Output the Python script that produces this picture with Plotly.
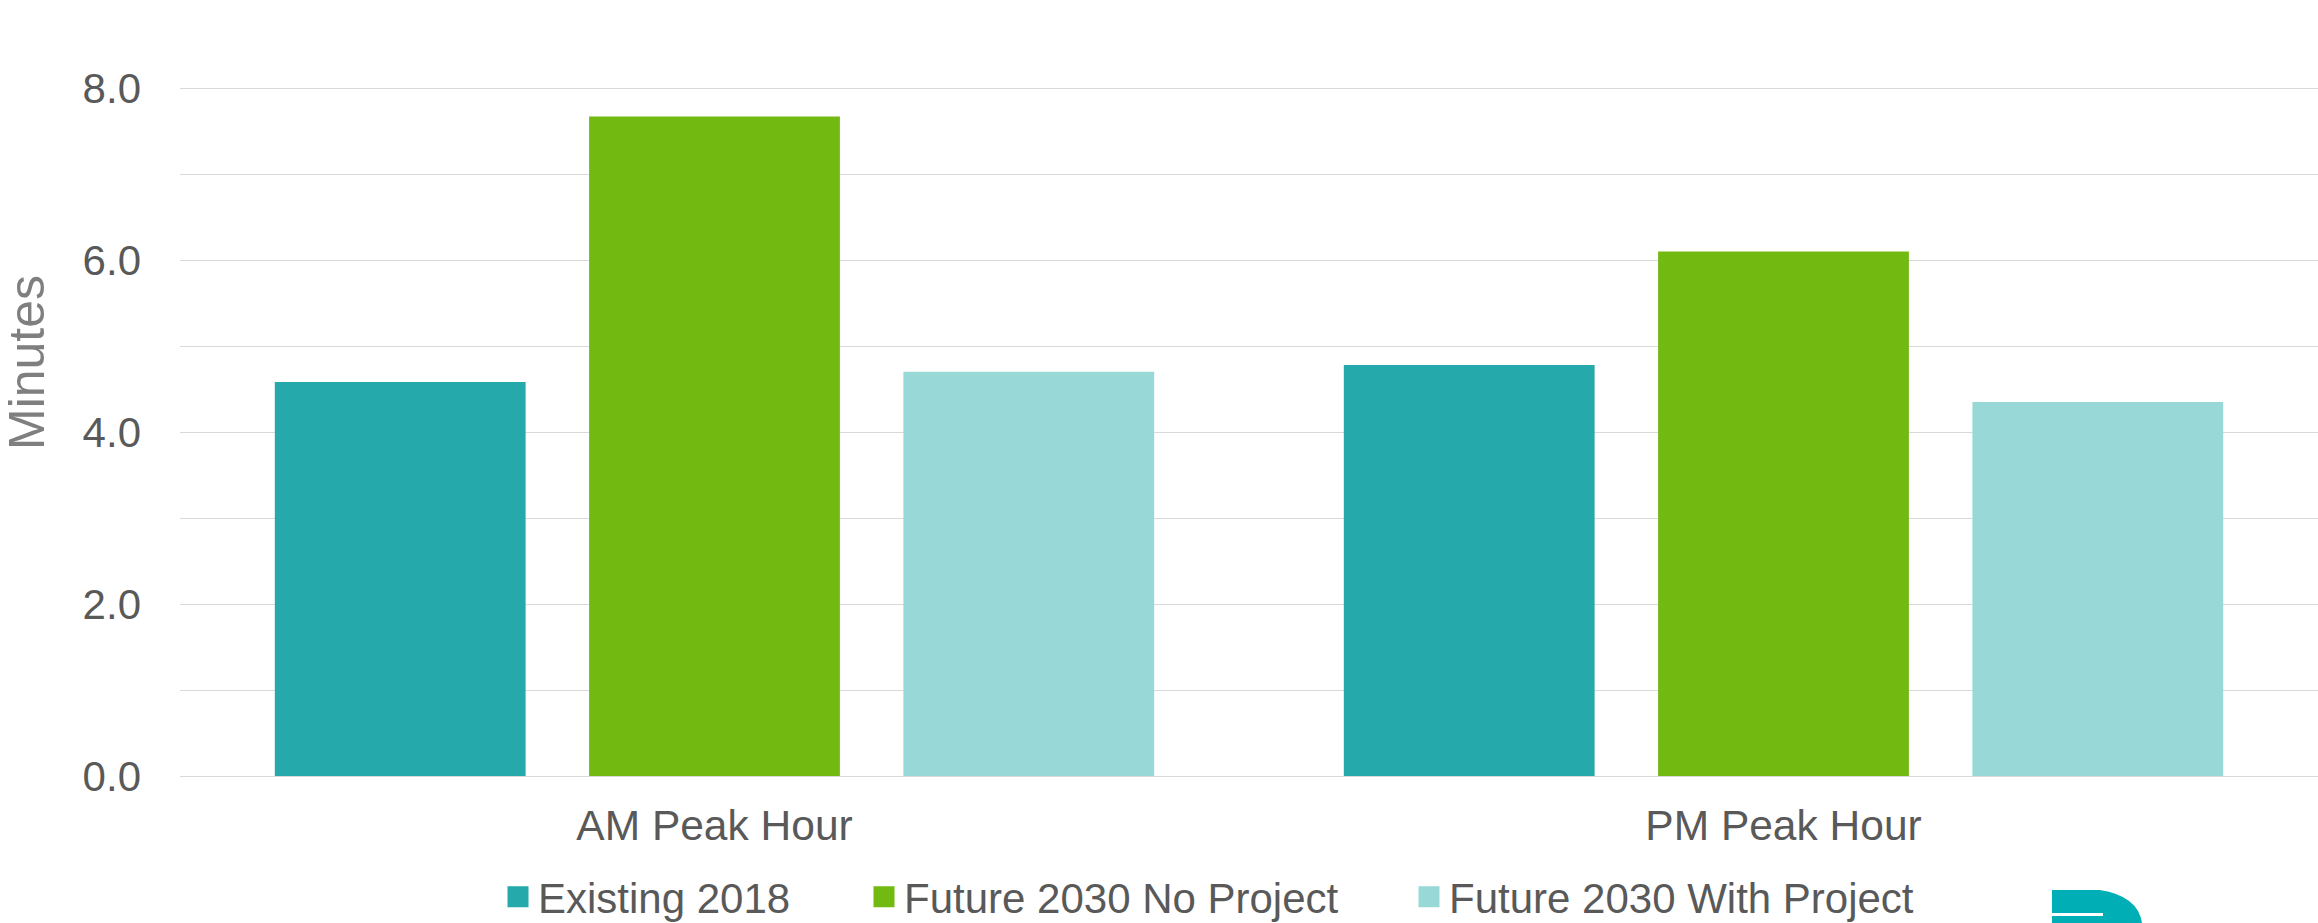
import plotly.graph_objects as go

categories = ["AM Peak Hour", "PM Peak Hour"]
series_names = ["Existing 2018", "Future 2030 No Project", "Future 2030 With Project"]
existing_2018 = [4.58, 4.78]
future_no_project = [7.67, 6.10]
future_with_project = [4.70, 4.35]
colors = ["#25A9AB", "#72BA11", "#98D9D8"]
y_ticks = [0, 2, 4, 6, 8]

W, H = 2318, 923
L, R, T, B = 180, 0, 2, 147
FONT = "Liberation Sans, Arial, sans-serif"


def px_to_paper(px, py):
    return (px - L) / (W - L - R), (H - B - py) / (H - B - T)


fig = go.Figure()
legend_ids = ["legend", "legend2", "legend3"]
legend_marker_px = [518, 884, 1429]
for name, vals, c, lg in zip(series_names, [existing_2018, future_no_project, future_with_project],
                             colors, legend_ids):
    fig.add_trace(go.Bar(x=categories, y=vals, name=name, marker=dict(color=c, line=dict(width=0)),
                         showlegend=False))
    fig.add_trace(go.Scatter(x=[None], y=[None], mode="markers", name=name, legend=lg,
                             marker=dict(symbol="square", size=16, color=c,
                                         line=dict(width=5, color=c))))

# partial logo at bottom right
pts = [(2052, 890), (2100, 890), (2138, 896), (2142, 923), (2052, 923)]
pp = [px_to_paper(x, y) for x, y in pts]
path = "M %f,%f L %f,%f Q %f,%f %f,%f L %f,%f Z" % (pp[0] + pp[1] + pp[2] + pp[3] + pp[4])
x0, y0 = px_to_paper(2052, 913)
x1, y1 = px_to_paper(2103, 916)

legend_layouts = {}
for lg, mx in zip(legend_ids, legend_marker_px):
    lx, ly = px_to_paper(mx - 20, 897)
    legend_layouts[lg] = dict(orientation="h", x=lx, xanchor="left", y=ly, yanchor="middle",
                              font=dict(size=42, color="#595959", family=FONT),
                              bgcolor="rgba(0,0,0,0)", borderwidth=0)

tx, ty = px_to_paper(27, 363)

fig.update_layout(
    width=W, height=H,
    margin=dict(l=L, r=R, t=T, b=B, pad=0, autoexpand=False),
    paper_bgcolor="white", plot_bgcolor="white",
    barmode="group", bargap=0.118, bargroupgap=0.202,
    font=dict(family=FONT, size=42, color="#595959"),
    xaxis=dict(showgrid=False, showline=False, ticks="", automargin=False,
               tickfont=dict(size=42.5, color="#595959"), ticklabelstandoff=20),
    yaxis=dict(range=[0, 9], tickvals=y_ticks, tickformat=".1f", showgrid=True, automargin=False,
               gridcolor="#D9D9D9", gridwidth=1.3, zeroline=True, zerolinecolor="#D9D9D9",
               zerolinewidth=1.3, showline=False, ticks="", ticklabelstandoff=38,
               tickfont=dict(size=42, color="#595959"),
               minor=dict(dtick=1, showgrid=True, gridcolor="#D9D9D9", gridwidth=1.3)),
    annotations=[dict(text="Minutes", xref="paper", yref="paper", x=tx, y=ty,
                      xanchor="center", yanchor="middle", textangle=-90, showarrow=False,
                      font=dict(size=50, color="#7F7F7F", family=FONT))],
    shapes=[
        dict(type="path", xref="paper", yref="paper", path=path, fillcolor="#00AEB5", line=dict(width=0)),
        dict(type="rect", xref="paper", yref="paper", x0=x0, y0=y0, x1=x1, y1=y1,
             fillcolor="white", line=dict(width=0)),
    ],
    **legend_layouts,
)

fig.write_html("out.html", config={"displayModeBar": False},
               post_script="document.body.style.margin='0';document.body.style.overflow='hidden';")
